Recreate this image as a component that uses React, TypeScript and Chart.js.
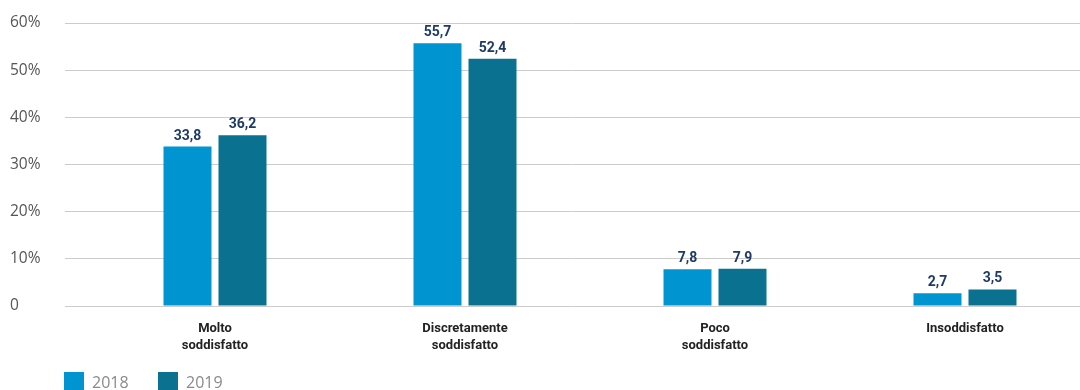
import React, { useEffect, useRef } from "react";
import { Chart, registerables } from "chart.js";

Chart.register(...registerables);

const categories: string[][] = [
  ["Molto", "soddisfatto"],
  ["Discretamente", "soddisfatto"],
  ["Poco", "soddisfatto"],
  ["Insoddisfatto"],
];
const years = ["2018", "2019"];
const values2018 = [33.8, 55.7, 7.8, 2.7];
const values2019 = [36.2, 52.4, 7.9, 3.5];
const yTicks = [0, 10, 20, 30, 40, 50, 60];
const colors = ["#0094D1", "#0B7191"];

const valueLabels = {
  id: "valueLabels",
  afterDatasetsDraw(chart: any) {
    const ctx = chart.ctx;
    ctx.save();
    ctx.font = "bold 14px Roboto";
    ctx.fillStyle = "#1E3A66";
    ctx.textAlign = "center";
    ctx.textBaseline = "alphabetic";
    chart.data.datasets.forEach((ds: any, di: number) => {
      const meta = chart.getDatasetMeta(di);
      meta.data.forEach((bar: any, i: number) => {
        const v = ds.data[i].y;
        ctx.fillText(v.toFixed(1).replace(".", ","), bar.x, bar.y - 7);
      });
    });
    ctx.restore();
  },
};

const customLegend = {
  id: "customLegend",
  afterDraw(chart: any) {
    const ctx = chart.ctx;
    ctx.save();
    const xs = [64, 158];
    ctx.font = "16px 'Open Sans'";
    ctx.textBaseline = "middle";
    ctx.textAlign = "left";
    chart.data.datasets.forEach((ds: any, i: number) => {
      ctx.fillStyle = ds.backgroundColor;
      ctx.fillRect(xs[i], 372, 20, 20);
      ctx.fillStyle = "#8A8A8A";
      ctx.fillText(ds.label, xs[i] + 28, 383);
    });
    ctx.restore();
  },
};

export default function App() {
  const ref = useRef<HTMLCanvasElement>(null);
  useEffect(() => {
    document.body.style.margin = "0";
    const chart = new Chart(ref.current!, {
      type: "bar",
      data: {
        datasets: [values2018, values2019].map((vals, di) => ({
          label: years[di],
          data: vals.map((v, i) => ({ x: i, y: v })),
          backgroundColor: colors[di],
          categoryPercentage: 0.44,
          barPercentage: 0.873,
        })),
      },
      options: {
        animation: false,
        responsive: false,
        layout: { padding: { left: 10, right: 0, top: 23, bottom: 34 } },
        plugins: {
          legend: { display: false },
          tooltip: { enabled: false },
        },
        scales: {
          x: {
            type: "linear",
            offset: false,
            min: -0.6,
            max: 3.46,
            grid: { display: false },
            border: { display: false },
            afterBuildTicks: (scale: any) => {
              scale.ticks = categories.map((_, i) => ({ value: i }));
            },
            afterFit: (scale: any) => {
              scale.height = 50;
            },
            ticks: {
              autoSkip: false,
              maxRotation: 0,
              padding: 6,
              color: "#222222",
              font: { family: "Roboto", size: 13, weight: "bold", lineHeight: 1.3 },
              callback: (v: any) => categories[Math.round(v)] ?? "",
            },
          },
          y: {
            min: 0,
            max: 60,
            afterBuildTicks: (scale: any) => {
              scale.ticks = yTicks.map((v) => ({ value: v }));
            },
            afterFit: (scale: any) => {
              scale.width = 55;
            },
            grid: { color: "#CCCCCC", drawTicks: false, lineWidth: 1 },
            border: { display: false },
            ticks: {
              crossAlign: "far",
              padding: 0,
              color: "#555555",
              font: { family: "'Open Sans'", size: 15.5 },
              callback: (v: any) => (v === 0 ? "0" : v + "%"),
            },
          },
        },
      },
      plugins: [valueLabels, customLegend],
    });
    return () => chart.destroy();
  }, []);
  return (
    <div style={{ width: 1080, height: 390, overflow: "hidden" }}>
      <canvas ref={ref} width={1080} height={390} />
    </div>
  );
}
